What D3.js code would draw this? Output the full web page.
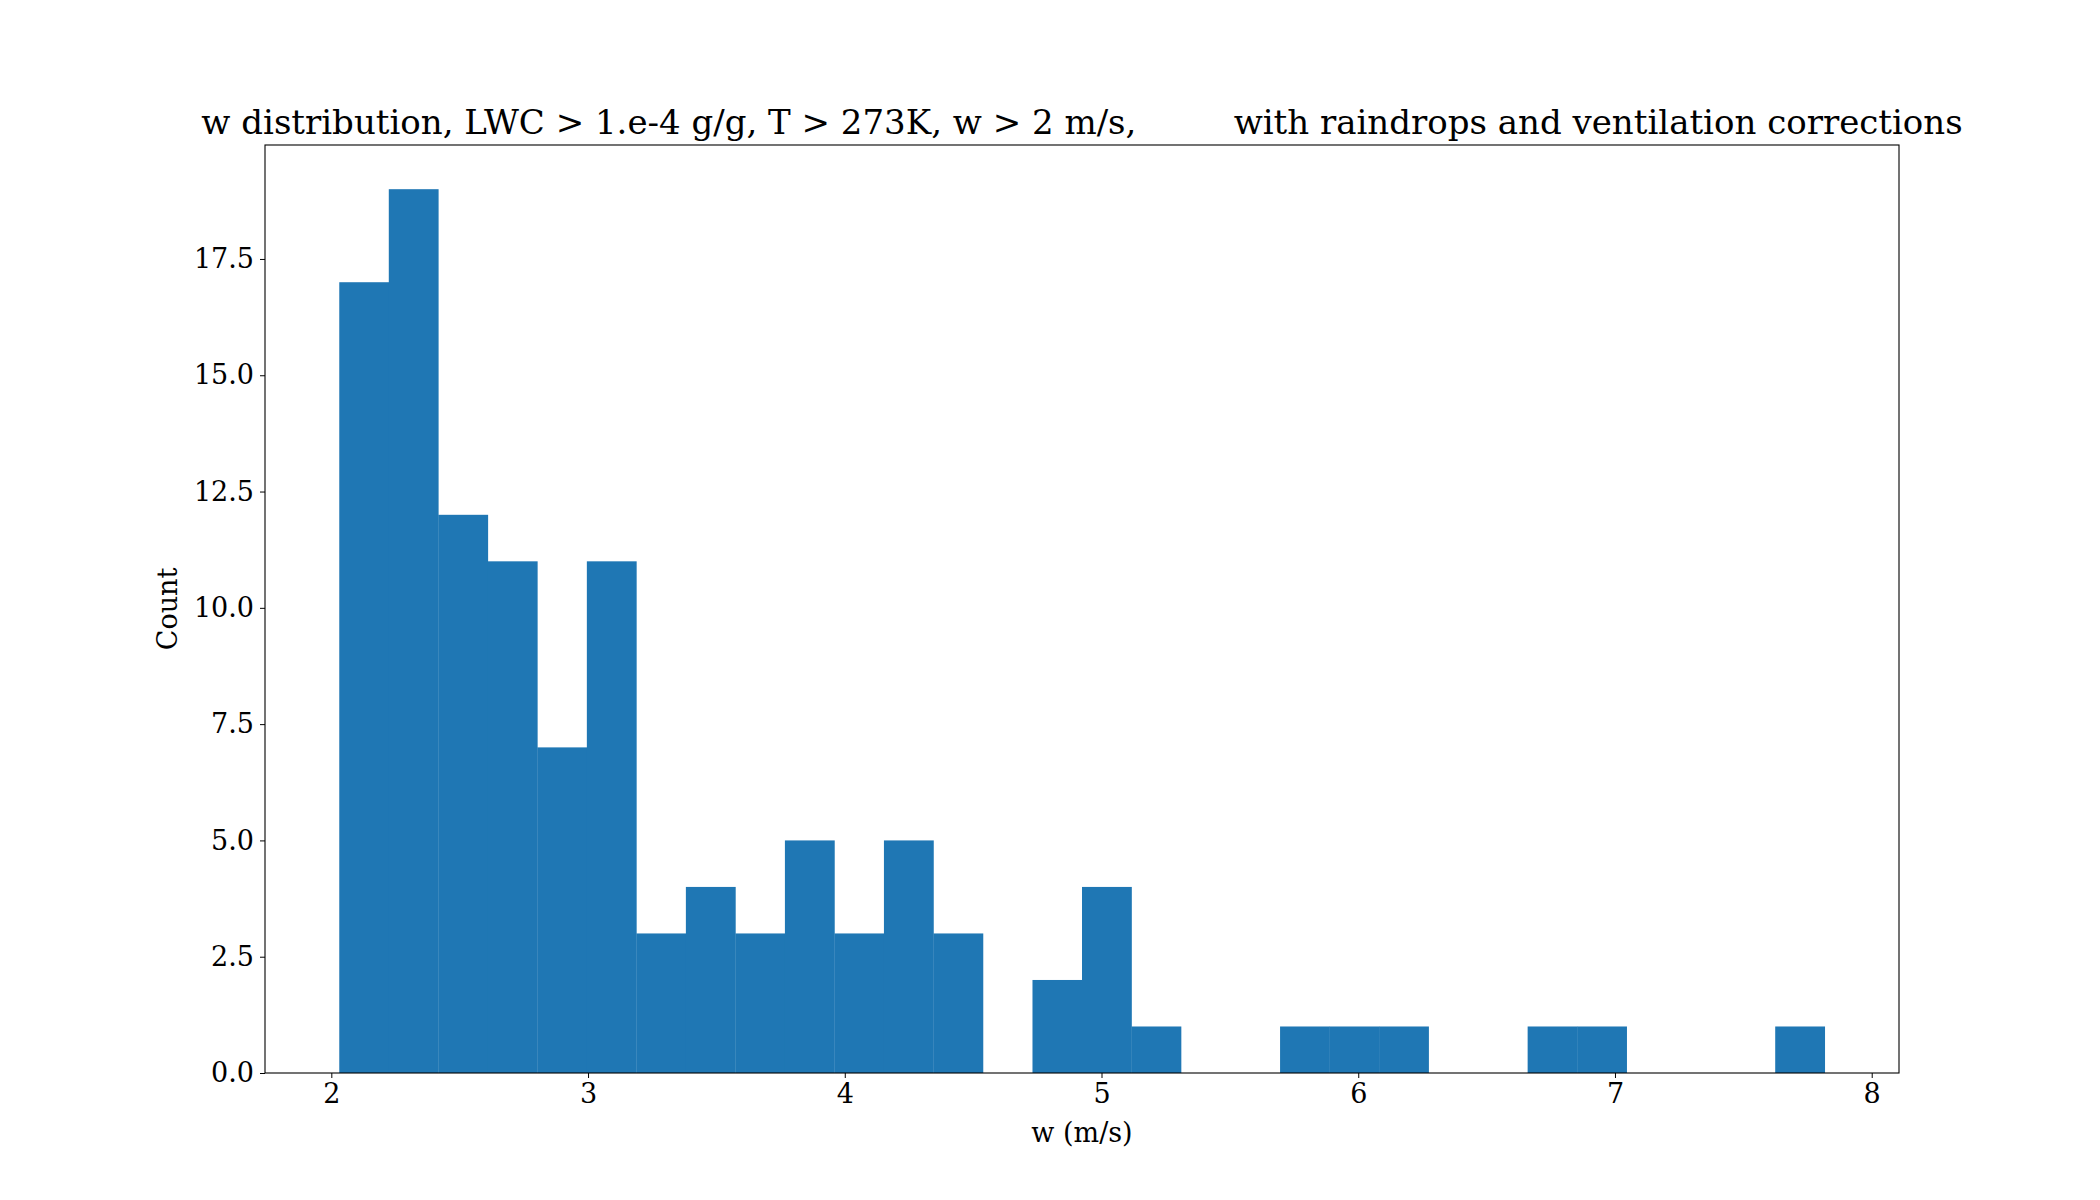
<!DOCTYPE html>
<html><head><meta charset="utf-8">
<script src="https://cdn.jsdelivr.net/npm/d3@7"></script>
<style>body{margin:0;background:#fff}text{font-family:"DejaVu Serif",serif;fill:#000}</style>
</head><body><svg id="c" width="2100" height="1200"></svg>
<script>
const binStart = 2.031, binEnd = 7.817;
const counts = [17,19,12,11,7,11,3,4,3,5,3,5,3,0,2,4,1,0,0,1,1,1,0,0,1,1,0,0,0,1];
const xTicks = [2,3,4,5,6,7,8];
const yTicks = [0,2.5,5,7.5,10,12.5,15,17.5];
const title = "w distribution, LWC > 1.e-4 g/g, T > 273K, w > 2 m/s,         with raindrops and ventilation corrections";

const L=265,R=1899,T=145,B=1073;
const svg=d3.select("#c");
const w=(binEnd-binStart)/counts.length;
const x=d3.scaleLinear().domain([binStart-0.05*(binEnd-binStart),binEnd+0.05*(binEnd-binStart)]).range([L,R]);
const y=d3.scaleLinear().domain([0,19*1.05]).range([B,T]);
svg.append("g").selectAll("rect").data(counts).join("rect")
 .attr("x",(d,i)=>x(binStart+i*w)).attr("width",(d,i)=>x(binStart+(i+1)*w)-x(binStart+i*w)+0.3)
 .attr("y",d=>y(d)).attr("height",d=>B-y(d)).attr("fill","#1f77b4");
svg.append("rect").attr("x",L).attr("y",T).attr("width",R-L).attr("height",B-T).attr("fill","none").attr("stroke","#000").attr("stroke-width",1.1);
const xa=svg.append("g").attr("transform",`translate(0,${B})`).call(d3.axisBottom(x).tickValues(xTicks).tickFormat(d3.format("d")).tickSize(5).tickPadding(6));
const ya=svg.append("g").attr("transform",`translate(${L},0)`).call(d3.axisLeft(y).tickValues(yTicks).tickFormat(d3.format(".1f")).tickSize(5).tickPadding(6));
[xa,ya].forEach(a=>{a.select(".domain").remove();a.selectAll("text").style("font-size","27px").style("font-family","DejaVu Serif");a.selectAll("line").attr("stroke","#000");});
svg.append("text").attr("x",(L+R)/2).attr("y",1142).attr("text-anchor","middle").style("font-size","27px").text("w (m/s)");
svg.append("text").attr("transform",`translate(177,${(T+B)/2}) rotate(-90)`).attr("text-anchor","middle").style("font-size","27px").text("Count");
svg.append("text").attr("x",(L+R)/2).attr("y",134).attr("text-anchor","middle").attr("xml:space","preserve").style("white-space","pre").style("font-size","34px").text(title);
</script></body></html>
